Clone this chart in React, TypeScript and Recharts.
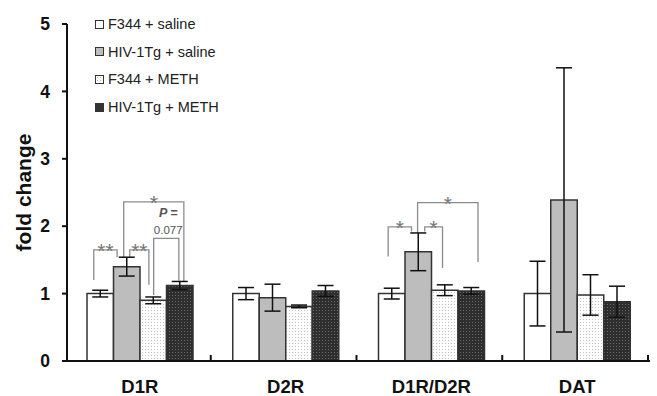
import React from "react";
import { BarChart, Bar, XAxis, YAxis, ErrorBar, Customized } from "recharts";

const categories = ["D1R", "D2R", "D1R/D2R", "DAT"];
const f344Saline = [1.0, 1.0, 1.0, 1.0];
const f344SalineErr = [0.05, 0.09, 0.08, 0.48];
const hivSaline = [1.4, 0.94, 1.62, 2.39];
const hivSalineErr = [0.14, 0.2, 0.28, 1.96];
const f344Meth = [0.9, 0.81, 1.05, 0.98];
const f344MethErr = [0.05, 0.02, 0.08, 0.3];
const hivMeth = [1.12, 1.04, 1.04, 0.88];
const hivMethErr = [0.06, 0.08, 0.05, 0.23];
const yTicks = [0, 1, 2, 3, 4, 5];

const seriesNames = ["F344 + saline", "HIV-1Tg + saline", "F344 + METH", "HIV-1Tg + METH"];

// significance brackets: x in bar widths from the group's left edge, y in fold change
const brackets = [
  { cat: 0, x1: 0.26, x2: 1.14, top: 1.65, b1: 1.2, b2: 1.54, label: "**" },
  { cat: 0, x1: 1.62, x2: 2.34, top: 1.65, b1: 1.54, b2: 1.13, label: "**" },
  { cat: 0, x1: 1.39, x2: 3.66, top: 2.36, b1: 1.54, b2: 1.18, label: "*" },
  { cat: 0, x1: 2.52, x2: 3.47, top: 1.82, b1: 0.98, b2: 1.19, label: "p" },
  { cat: 2, x1: 0.37, x2: 1.25, top: 1.99, b1: 1.55, b2: 1.92, label: "*" },
  { cat: 2, x1: 1.75, x2: 2.42, top: 1.99, b1: 1.92, b2: 1.38, label: "*" },
  { cat: 2, x1: 1.48, x2: 3.76, top: 2.35, b1: 1.9, b2: 1.47, label: "*" },
];

const data = categories.map((name, i) => ({
  name,
  a: f344Saline[i],
  aErr: f344SalineErr[i],
  b: hivSaline[i],
  bErr: hivSalineErr[i],
  c: f344Meth[i],
  cErr: f344MethErr[i],
  d: hivMeth[i],
  dErr: hivMethErr[i],
}));

const W = 657;
const H = 396;
const LEFT = 67;
const TOP = 24;
const RIGHT = 7;
const XAXIS_H = 35;
const PLOT_W = W - LEFT - RIGHT;
const PLOT_H = H - TOP - XAXIS_H;
const BAR_W = 26.5;
const FONT = "'Liberation Sans', Arial, sans-serif";
const GRAY = "#8c8c8c";

const yPx = (v: number) => TOP + PLOT_H * (1 - v / 5);
const band = PLOT_W / categories.length;

const Overlay = () => {
  return (
    <g>
      {categories.map((_, i) => {
        const x = LEFT + band * (i + 1) - 2;
        return <line key={i} x1={x} x2={x} y1={TOP + PLOT_H} y2={TOP + PLOT_H - 6} stroke="#111" strokeWidth={2} />;
      })}
      {brackets.map((br, i) => {
        const start = LEFT + band * br.cat + band / 2 - BAR_W * 2;
        const x1 = start + br.x1 * BAR_W;
        const x2 = start + br.x2 * BAR_W;
        const yt = yPx(br.top);
        const mid = (x1 + x2) / 2;
        return (
          <g key={i}>
            <polyline
              points={`${x1},${yPx(br.b1)} ${x1},${yt} ${x2},${yt} ${x2},${yPx(br.b2)}`}
              fill="none"
              stroke={GRAY}
              strokeWidth={1.3}
            />
            {br.label === "p" ? (
              <g fontFamily={FONT} fill="#555" textAnchor="middle">
                <text x={mid + 2} y={yt - 21} fontSize={12.5} fontWeight="bold" fontStyle="italic">
                  P =
                </text>
                <text x={mid + 2} y={yt - 4} fontSize={11.5}>
                  0.077
                </text>
              </g>
            ) : (
              <text x={mid} y={yt + 8} fontFamily={FONT} fontSize={21} fill="#777" textAnchor="middle">
                {br.label}
              </text>
            )}
          </g>
        );
      })}
      <text
        x={0}
        y={0}
        transform={`translate(31, ${TOP + PLOT_H / 2}) rotate(-90)`}
        textAnchor="middle"
        fontFamily={FONT}
        fontSize={21}
        fontWeight="bold"
        fill="#111"
      >
        fold change
      </text>
    </g>
  );
};

const swatch = (i: number): React.CSSProperties => {
  const base: React.CSSProperties = {
    width: 7,
    height: 7,
    border: "1px solid #333",
    marginRight: 4,
    flex: "none",
  };
  if (i === 0) return { ...base, background: "#fff" };
  if (i === 1) return { ...base, background: "#bdbdbd" };
  if (i === 2)
    return { ...base, background: "#fff", backgroundImage: "radial-gradient(#bbb 0.6px, transparent 0.8px)", backgroundSize: "3px 3px" };
  return { ...base, background: "#333" };
};

const LegendBox = () => (
  <div style={{ position: "absolute", left: 95, top: 0, fontFamily: FONT, fontSize: 14.5, color: "#222" }}>
    {seriesNames.map((n, i) => (
      <div
        key={n}
        style={{ position: "absolute", top: 15 + i * 27.7, height: 18, display: "flex", alignItems: "center", whiteSpace: "nowrap" }}
      >
        <div style={swatch(i)} />
        <span>{n}</span>
      </div>
    ))}
  </div>
);

export default function App() {
  return (
    <div style={{ position: "absolute", left: 0, top: 0, width: W, height: H, background: "#fff" }}>
      <BarChart
        width={W}
        height={H}
        data={data}
        margin={{ top: TOP, right: RIGHT, bottom: 0, left: 0 }}
        barSize={BAR_W}
        barGap={0}
      >
        <defs>
          <pattern id="lightDots" width="3" height="3" patternUnits="userSpaceOnUse">
            <rect width="3" height="3" fill="#fdfdfd" />
            <rect x="1" y="1" width="1" height="1" fill="#c4c4c4" />
          </pattern>
          <pattern id="darkDots" width="3" height="3" patternUnits="userSpaceOnUse">
            <rect width="3" height="3" fill="#2e2e2e" />
            <rect x="1" y="1" width="1" height="1" fill="#6a6a6a" />
          </pattern>
        </defs>
        <XAxis
          dataKey="name"
          height={XAXIS_H}
          tickLine={false}
          tickSize={6}
          tickMargin={13}
          axisLine={{ stroke: "#111", strokeWidth: 2 }}
          tick={{ fontFamily: FONT, fontSize: 18.5, fontWeight: "bold", fill: "#111" }}
          interval={0}
        />
        <YAxis
          width={LEFT}
          domain={[0, 5]}
          ticks={yTicks}
          tickSize={5}
          tickMargin={12}
          axisLine={{ stroke: "#111", strokeWidth: 2 }}
          tickLine={{ stroke: "#111", strokeWidth: 2 }}
          tick={{ fontFamily: FONT, fontSize: 17.5, fontWeight: "bold", fill: "#111" }}
        />
        <Bar dataKey="a" fill="#ffffff" stroke="#333" strokeWidth={1.5} isAnimationActive={false}>
          <ErrorBar dataKey="aErr" width={8} stroke="#111" strokeWidth={1.5} />
        </Bar>
        <Bar dataKey="b" fill="#bdbdbd" stroke="#333" strokeWidth={1.5} isAnimationActive={false}>
          <ErrorBar dataKey="bErr" width={8} stroke="#111" strokeWidth={1.5} />
        </Bar>
        <Bar dataKey="c" fill="url(#lightDots)" stroke="#333" strokeWidth={1.5} isAnimationActive={false}>
          <ErrorBar dataKey="cErr" width={8} stroke="#111" strokeWidth={1.5} />
        </Bar>
        <Bar dataKey="d" fill="url(#darkDots)" stroke="#333" strokeWidth={1.5} isAnimationActive={false}>
          <ErrorBar dataKey="dErr" width={8} stroke="#111" strokeWidth={1.5} />
        </Bar>
        <Customized component={<Overlay />} />
      </BarChart>
      <LegendBox />
    </div>
  );
}
